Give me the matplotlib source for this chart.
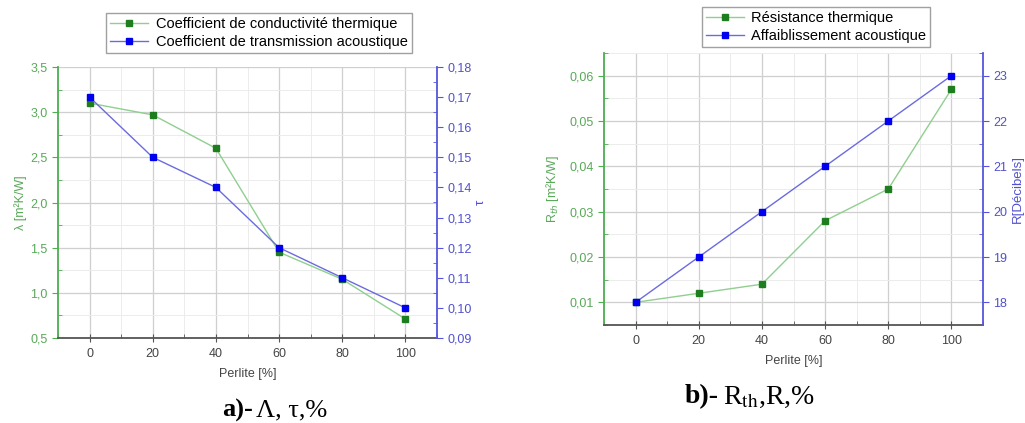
import matplotlib.pyplot as plt
from matplotlib.ticker import FuncFormatter, MultipleLocator

# Perlite content shared by both panels
perlite = [0, 20, 40, 60, 80, 100]

# Panel a: thermal conductivity and acoustic transmission
lambda_vals = [3.10, 2.97, 2.60, 1.45, 1.15, 0.71]
tau_vals = [0.170, 0.150, 0.140, 0.120, 0.110, 0.100]

# Panel b: thermal resistance and acoustic attenuation
rth_vals = [0.010, 0.012, 0.014, 0.028, 0.035, 0.057]
r_vals = [18, 19, 20, 21, 22, 23]

GREEN_LINE = "#8fcf8f"
GREEN_MK = "#1e7d1e"
GREEN_TXT = "#5aa85a"
GREEN_SPINE = "#4caf50"
BLUE_LINE = "#6b6be0"
BLUE_MK = "#0000ee"
BLUE_TXT = "#5050d0"
BLUE_SPINE = "#5555dd"

plt.rcParams["font.family"] = ["Liberation Sans", "DejaVu Sans"]

W, H = 1025, 423
fig = plt.figure(figsize=(W / 100, H / 100), dpi=100)


def comma(decimals):
    return FuncFormatter(lambda v, p: f"{v:.{decimals}f}".replace(".", ","))


def px_axes(x0, y0, x1, y1):
    return fig.add_axes([x0 / W, 1 - y1 / H, (x1 - x0) / W, (y1 - y0) / H])


def style(ax, ax2, ymaj, ymin, ydec, y2maj, y2min, y2dec, ylabel, y2label,
          ypad, y2pad):
    ax.set_xlim(-10, 110)
    ax.xaxis.set_major_locator(MultipleLocator(20))
    ax.xaxis.set_minor_locator(MultipleLocator(10))
    ax.yaxis.set_major_locator(MultipleLocator(ymaj))
    ax.yaxis.set_minor_locator(MultipleLocator(ymin))
    ax.yaxis.set_major_formatter(comma(ydec))
    ax2.yaxis.set_major_locator(MultipleLocator(y2maj))
    ax2.yaxis.set_minor_locator(MultipleLocator(y2min))
    ax2.yaxis.set_major_formatter(comma(y2dec))

    ax.grid(True, which="major", color="#cfcfcf", lw=0.9)
    ax.grid(True, which="minor", color="#ececec", lw=0.7)
    ax.set_axisbelow(True)

    ax.spines["top"].set_visible(False)
    ax2.spines["top"].set_visible(False)
    ax.spines["right"].set_visible(False)
    ax2.spines["left"].set_visible(False)
    ax2.spines["bottom"].set_visible(False)
    ax.spines["left"].set_color(GREEN_SPINE)
    ax.spines["left"].set_linewidth(1.3)
    ax2.spines["right"].set_color(BLUE_SPINE)
    ax2.spines["right"].set_linewidth(1.3)
    ax.spines["bottom"].set_color("#555555")
    ax.spines["bottom"].set_linewidth(1.3)

    ax.tick_params(axis="x", which="major", direction="inout", length=6,
                   color="#555555", labelsize=9, labelcolor="#444444", pad=4)
    ax.tick_params(axis="x", which="minor", direction="in", length=3,
                   color="#555555")
    ax.tick_params(axis="y", which="major", direction="out", length=4,
                   color=GREEN_SPINE, labelsize=9, labelcolor=GREEN_TXT)
    ax.tick_params(axis="y", which="minor", direction="in", length=3,
                   color=GREEN_SPINE)
    ax2.tick_params(axis="y", which="major", direction="out", length=4,
                    color=BLUE_SPINE, labelsize=9, labelcolor=BLUE_TXT)
    ax2.tick_params(axis="y", which="minor", direction="in", length=3,
                    color=BLUE_SPINE)

    ax.set_xlabel("Perlite [%]", fontsize=9, color="#444444", labelpad=6)
    ax.set_ylabel(ylabel, fontsize=9, color=GREEN_TXT, labelpad=ypad)
    ax2.set_ylabel(y2label, fontsize=9.5, color=BLUE_TXT, rotation=90,
                   labelpad=y2pad)


def series(ax, x, y, line, mk):
    return ax.plot(x, y, color=line, lw=1.0, marker="s", markersize=4.5,
                   markerfacecolor=mk, markeredgecolor=mk)[0]


def legend(handles, labels, cx, cy):
    fig.legend(handles, labels, loc="center",
               bbox_to_anchor=(cx / W, 1 - cy / H),
               fontsize=10.5, frameon=True, fancybox=False,
               edgecolor="#888888", handlelength=2.6, borderpad=0.3,
               labelspacing=0.25, handletextpad=0.5)


# ---- panel a ----
axa = px_axes(58, 67, 437, 338)
axa2 = axa.twinx()
la = series(axa, perlite, lambda_vals, GREEN_LINE, GREEN_MK)
ta = series(axa2, perlite, tau_vals, BLUE_LINE, BLUE_MK)
axa.set_ylim(0.5, 3.5)
axa2.set_ylim(0.09, 0.18)
style(axa, axa2, 0.5, 0.25, 1, 0.01, 0.005, 2, "λ [m²K/W]", "τ", 2, 2)
legend([la, ta],
       ["Coefficient de conductivité thermique",
        "Coefficient de transmission acoustique"], 259, 33)

# ---- panel b ----
axb = px_axes(604, 53, 983, 325)
axb2 = axb.twinx()
lb = series(axb, perlite, rth_vals, GREEN_LINE, GREEN_MK)
tb = series(axb2, perlite, r_vals, BLUE_LINE, BLUE_MK)
axb.set_ylim(0.005, 0.065)
axb2.set_ylim(17.5, 23.5)
style(axb, axb2, 0.01, 0.005, 2, 1, 0.5, 0, "R$_{th}$ [m²K/W]",
      "R[Décibels]", 6, 3)
legend([lb, tb], ["Résistance thermique", "Affaiblissement acoustique"],
       816, 27)

# ---- captions ----
serif = ["Liberation Serif", "DejaVu Serif"]
fig.text(222 / W, 1 - 410 / H, "a)-", family=serif, fontsize=19,
         fontweight="bold", ha="left", va="center")
fig.text(256 / W, 1 - 410 / H, "Λ, τ,%", family=serif, fontsize=19,
         ha="left", va="center")
fig.text(685 / W, 1 - 397 / H, "b)-", family=serif, fontsize=20,
         fontweight="bold", ha="left", va="center")
fig.text(723 / W, 1 - 397 / H, "R$_{\\mathrm{th}}$,R,%", family=serif,
         fontsize=20, ha="left", va="center", math_fontfamily="stix")

fig.savefig("out.png", dpi=100)
